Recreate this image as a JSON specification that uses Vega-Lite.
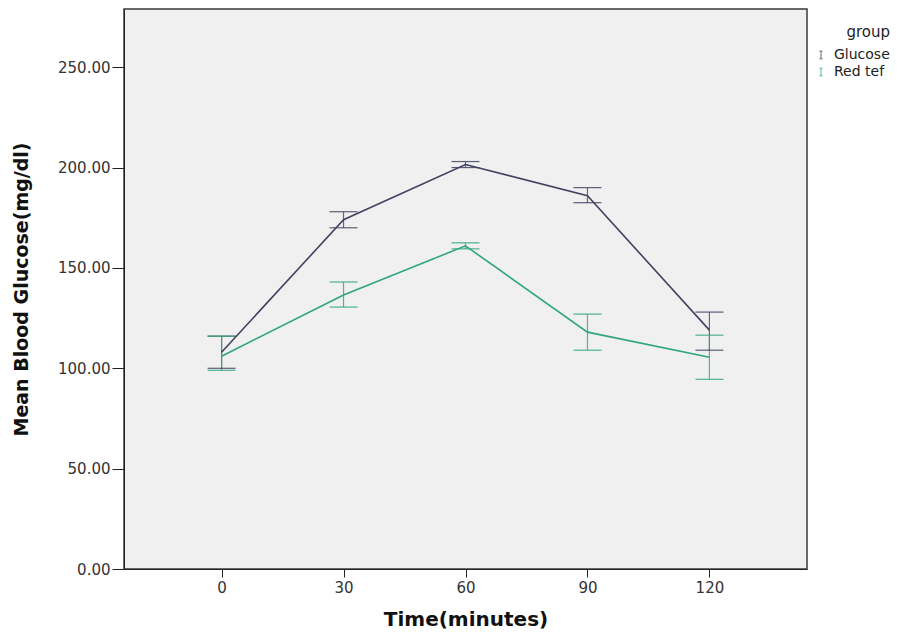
{
  "$schema": "https://vega.github.io/schema/vega-lite/v6.json",
  "width": 683,
  "height": 560,
  "autosize": "none",
  "padding": {"left": 124, "top": 9, "right": 94, "bottom": 63},
  "background": "white",
  "config": {
    "font": "DejaVu Sans",
    "view": {"fill": "#f0f0f0", "stroke": "#3a3a3a", "strokeWidth": 1.5},
    "axis": {"grid": false, "domainColor": "#222", "tickColor": "#222", "labelColor": "#333", "labelFontSize": 15, "titleFontSize": 19, "titleFontWeight": "bold", "titleColor": "#111"}
  },
  "data": {"values": [
    {"group": "Glucose", "time": 0, "mean": 108, "lo": 100, "hi": 116},
    {"group": "Glucose", "time": 30, "mean": 174, "lo": 170, "hi": 178},
    {"group": "Glucose", "time": 60, "mean": 201.5, "lo": 200, "hi": 203},
    {"group": "Glucose", "time": 90, "mean": 186, "lo": 182.5, "hi": 190},
    {"group": "Glucose", "time": 120, "mean": 119, "lo": 109, "hi": 128},
    {"group": "Red tef", "time": 0, "mean": 106, "lo": 99, "hi": 116},
    {"group": "Red tef", "time": 30, "mean": 136.5, "lo": 130.5, "hi": 143},
    {"group": "Red tef", "time": 60, "mean": 161, "lo": 159.5, "hi": 162.5},
    {"group": "Red tef", "time": 90, "mean": 118, "lo": 109, "hi": 127},
    {"group": "Red tef", "time": 120, "mean": 105.5, "lo": 94.5, "hi": 116.5}
  ]},
  "encoding": {
    "x": {"field": "time", "type": "quantitative",
      "scale": {"domain": [-24, 144], "nice": false, "zero": false},
      "axis": {"values": [0, 30, 60, 90, 120], "title": "Time(minutes)", "tickSize": 8, "labelPadding": 3, "titlePadding": 14, "titleFontSize": 20}},
    "color": {"field": "group", "type": "nominal",
      "scale": {"domain": ["Glucose", "Red tef"], "range": ["#424262", "#2fa67c"]},
      "legend": {"title": "group", "orient": "none", "legendX": 690, "legendY": 16, "titleAnchor": "end", "titleFontSize": 15, "titleFontWeight": "normal", "titleColor": "#222", "titlePadding": 8, "labelFontSize": 14, "labelColor": "#222", "symbolType": "M-0.4,-1H0.4M0,-1V1M-0.4,1H0.4", "symbolSize": 60, "symbolStrokeWidth": 1, "labelOffset": 6, "rowPadding": 3, "padding": 0}}
  },
  "layer": [
    {
      "mark": {"type": "rule", "strokeWidth": 1.2, "opacity": 0.8},
      "encoding": {
        "y": {"field": "lo", "type": "quantitative"},
        "y2": {"field": "hi"}
      }
    },
    {
      "mark": {"type": "tick", "orient": "horizontal", "size": 28, "thickness": 1.2, "opacity": 0.85},
      "encoding": {"y": {"field": "lo", "type": "quantitative"}}
    },
    {
      "mark": {"type": "tick", "orient": "horizontal", "size": 28, "thickness": 1.2, "opacity": 0.85},
      "encoding": {"y": {"field": "hi", "type": "quantitative"}}
    },
    {
      "mark": {"type": "line", "strokeWidth": 1.6},
      "encoding": {
        "y": {"field": "mean", "type": "quantitative",
          "scale": {"domain": [0, 279], "nice": false},
          "axis": {"values": [0, 50, 100, 150, 200, 250], "format": ".2f", "title": "Mean  Blood Glucose(mg/dl)", "tickSize": 12, "labelPadding": 2, "titlePadding": 26}}
      }
    }
  ]
}
